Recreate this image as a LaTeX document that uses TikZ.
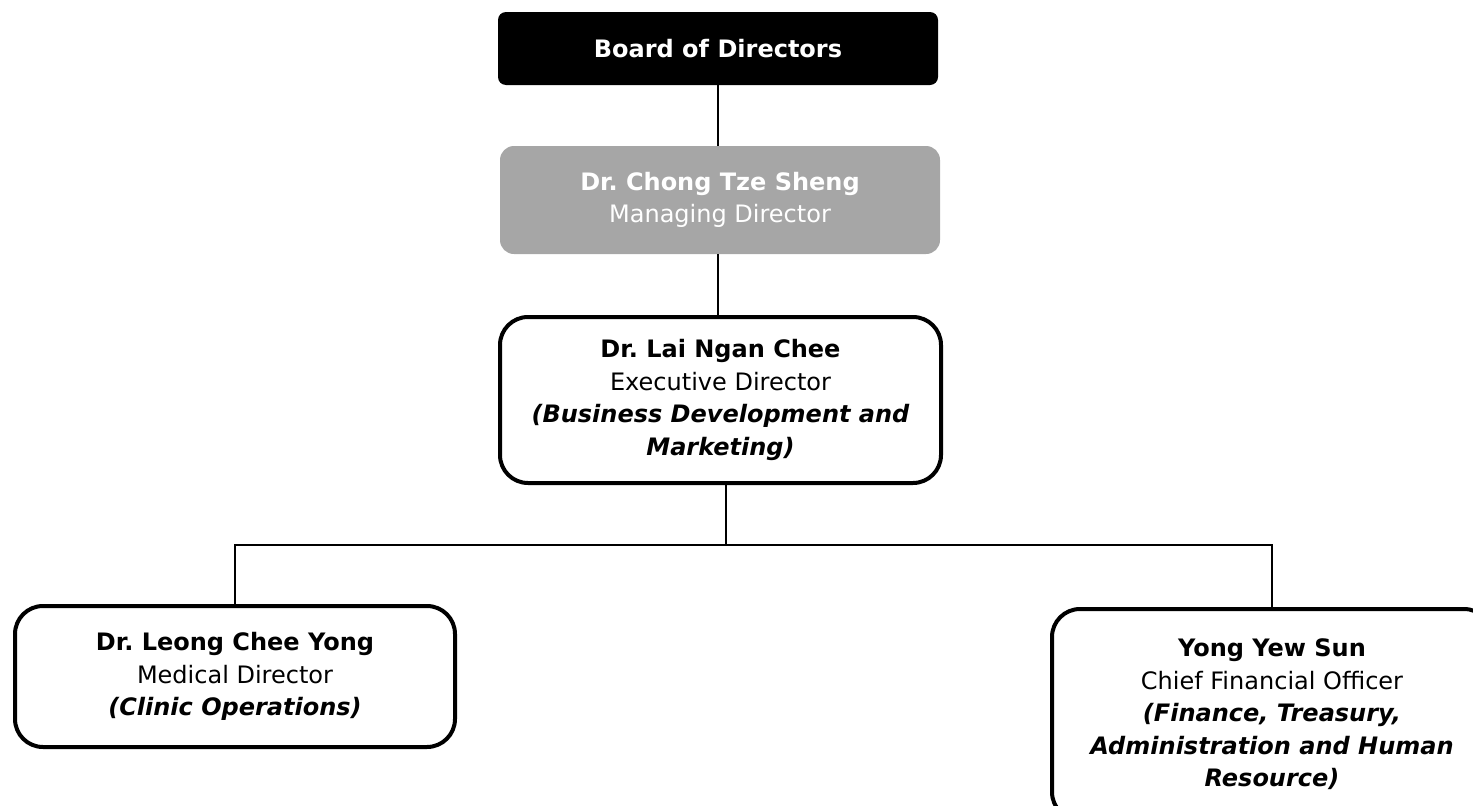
\documentclass[tikz,border=0pt]{standalone}
\usepackage{fontspec}
\setmainfont{DejaVu Sans}[ItalicFont={DejaVu Sans Oblique},BoldItalicFont={DejaVu Sans Bold Oblique}]
\frenchspacing
\definecolor{mdgray}{RGB}{166,166,166}
\tikzset{
  orgbox/.style={rectangle,align=center,inner sep=0pt,
    font=\fontsize{24}{32.5}\selectfont},
  staffbox/.style={orgbox,draw=black,line width=4pt,rounded corners=28pt,
    minimum width=440pt},
  conn/.style={draw=black,line width=1.5pt}
}
\begin{document}
\begin{tikzpicture}[x=1pt,y=-1pt]
\useasboundingbox (0,0) rectangle (1473,806);
\clip (0,0) rectangle (1473,806);
% top of the chart
\node[orgbox,fill=black,text=white,rounded corners=8pt,
      minimum width=440pt,minimum height=73pt] (board) at (718,48.5)
      {\bfseries Board of Directors};
\node[orgbox,fill=mdgray,text=white,rounded corners=14pt,
      minimum width=440pt,minimum height=108pt] (md) at (720,200)
      {\bfseries Dr. Chong Tze Sheng\\Managing Director};
\node[staffbox,minimum width=441pt,minimum height=166pt] (ed) at (720.5,400)
      {\bfseries Dr. Lai Ngan Chee\\Executive Director\\
       \bfseries\itshape (Business Development and\\
       \bfseries\itshape Marketing)};
% the two directors below
\node[staffbox,minimum height=141pt] (left) at (235,676.5)
      {\bfseries Dr. Leong Chee Yong\\Medical Director\\
       \bfseries\itshape (Clinic Operations)};
\node[staffbox,minimum height=211pt] (right) at (1272,714.5)
      {\bfseries Yong Yew Sun\\Chief Financial Officer\\
       \bfseries\itshape (Finance, Treasury,\\
       \bfseries\itshape Administration and Human\\
       \bfseries\itshape Resource)};
\coordinate (bus) at (726,545);
\draw[conn] (board.south) -- (board.south |- md.north);
\draw[conn] (board.south |- md.south) -- (board.south |- ed.north);
\draw[conn] (ed.south -| bus) -- (bus);
\draw[conn] (left.north) |- (bus) -| (right.north);
\end{tikzpicture}
\end{document}
